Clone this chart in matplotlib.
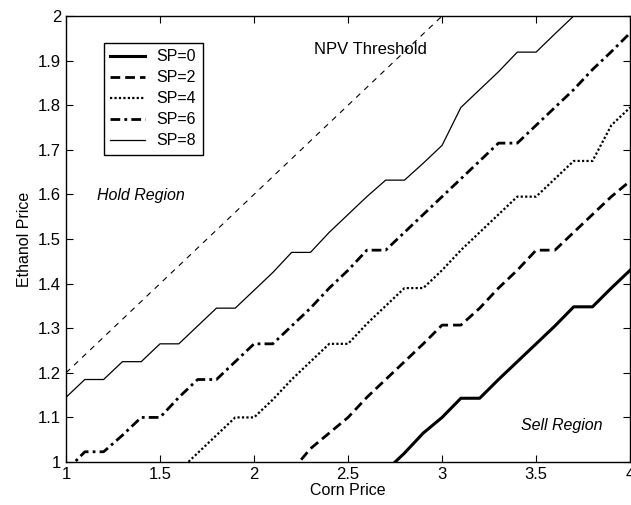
import matplotlib
matplotlib.use('Agg')
import matplotlib.pyplot as plt
import numpy as np

matplotlib.rcParams['font.family'] = ['Liberation Sans', 'DejaVu Sans']

# corn price grid for each curve, ethanol price threshold
x_sp0 = [2.7, 2.8, 2.9, 3.0, 3.1, 3.2, 3.3, 3.4, 3.5, 3.6, 3.7, 3.8, 3.9, 4.0]
y_sp0 = [0.98, 1.02, 1.065, 1.10, 1.143, 1.143, 1.185, 1.225, 1.265, 1.305, 1.348, 1.348, 1.39, 1.43]

x_sp2 = [2.2, 2.3, 2.4, 2.5, 2.6, 2.7, 2.8, 2.9, 3.0, 3.1, 3.2, 3.3, 3.4, 3.5, 3.6, 3.7, 3.8, 3.9, 4.0]
y_sp2 = [0.98, 1.03, 1.065, 1.10, 1.145, 1.185, 1.225, 1.265, 1.307, 1.307, 1.345, 1.39, 1.43,
         1.475, 1.475, 1.515, 1.555, 1.595, 1.63]

x_sp4 = [1.6, 1.7, 1.8, 1.9, 2.0, 2.1, 2.2, 2.3, 2.4, 2.5, 2.6, 2.7, 2.8, 2.9, 3.0, 3.1, 3.2, 3.3,
         3.4, 3.5, 3.6, 3.7, 3.8, 3.9, 4.0]
y_sp4 = [0.98, 1.02, 1.06, 1.10, 1.10, 1.14, 1.185, 1.225, 1.265, 1.265, 1.31, 1.35, 1.39, 1.39,
         1.43, 1.475, 1.515, 1.555, 1.595, 1.595, 1.635, 1.675, 1.675, 1.755, 1.795]

x_sp6 = [1.0, 1.1, 1.2, 1.3, 1.4, 1.5, 1.6, 1.7, 1.8, 1.9, 2.0, 2.1, 2.2, 2.3, 2.4, 2.5, 2.6, 2.7,
         2.8, 2.9, 3.0, 3.1, 3.2, 3.3, 3.4, 3.5, 3.6, 3.7, 3.8, 3.9, 4.0]
y_sp6 = [0.98, 1.023, 1.023, 1.06, 1.10, 1.10, 1.145, 1.185, 1.185, 1.225, 1.265, 1.265, 1.305,
         1.345, 1.39, 1.43, 1.475, 1.475, 1.515, 1.555, 1.595, 1.635, 1.675, 1.715, 1.715, 1.755,
         1.795, 1.835, 1.88, 1.92, 1.962]

x_sp8 = [1.0, 1.1, 1.2, 1.3, 1.4, 1.5, 1.6, 1.7, 1.8, 1.9, 2.0, 2.1, 2.2, 2.3, 2.4, 2.5, 2.6, 2.7,
         2.8, 2.9, 3.0, 3.1, 3.2, 3.3, 3.4, 3.5, 3.6, 3.7, 3.8]
y_sp8 = [1.145, 1.185, 1.185, 1.225, 1.225, 1.265, 1.265, 1.305, 1.345, 1.345, 1.385, 1.425, 1.47,
         1.47, 1.515, 1.555, 1.595, 1.632, 1.632, 1.67, 1.71, 1.795, 1.835, 1.875, 1.919, 1.919,
         1.96, 2.0, 2.04]

x_npv = [1.0, 3.0]
y_npv = [1.2, 2.0]

fig = plt.figure(figsize=(6.31, 5.05), dpi=100)
ax = fig.add_axes([0.1046, 0.0851, 0.894, 0.8832])

ax.plot(x_sp0, y_sp0, color='k', lw=2.2, ls='-', label='SP=0')
ax.plot(x_sp2, y_sp2, color='k', lw=2.0, ls=(0, (3.5, 1.8)), label='SP=2')
ax.plot(x_sp4, y_sp4, color='k', lw=1.6, ls=(0, (1, 1)), label='SP=4')
ax.plot(x_sp6, y_sp6, color='k', lw=2.0, ls=(0, (3.5, 1.5, 1, 1.5)), label='SP=6')
ax.plot(x_sp8, y_sp8, color='k', lw=0.9, ls='-', label='SP=8')
ax.plot(x_npv, y_npv, color='k', lw=0.8, ls=(0, (5, 5)))

ax.text(2.32, 1.924, 'NPV Threshold', fontsize=12, va='center', ha='left')
ax.text(1.165, 1.597, 'Hold Region', fontsize=11.5, style='italic', va='center', ha='left')
ax.text(3.42, 1.083, 'Sell Region', fontsize=11.5, style='italic', va='center', ha='left')

ax.set_xlim(1, 4)
ax.set_ylim(1, 2)
ax.set_xticks(np.arange(1, 4.01, 0.5))
ax.set_xticklabels(['1', '1.5', '2', '2.5', '3', '3.5', '4'])
ax.set_yticks(np.arange(1, 2.01, 0.1))
ax.set_yticklabels(['1', '1.1', '1.2', '1.3', '1.4', '1.5', '1.6', '1.7', '1.8', '1.9', '2'])
ax.tick_params(direction='in', top=True, right=True, labelsize=12, length=5, width=0.8)
ax.set_xlabel('Corn Price', fontsize=11.5, labelpad=1)
ax.set_ylabel('Ethanol Price', fontsize=11.5, labelpad=4)
for s in ax.spines.values():
    s.set_linewidth(1.0)

leg = ax.legend(loc='upper left', bbox_to_anchor=(0.067, 0.94), fontsize=11.5,
                fancybox=False, framealpha=1, edgecolor='k', handlelength=2.2,
                handletextpad=0.7, labelspacing=0.38, borderpad=0.4, borderaxespad=0)
leg.get_frame().set_linewidth(1.0)

plt.savefig('out.png', dpi=100)
